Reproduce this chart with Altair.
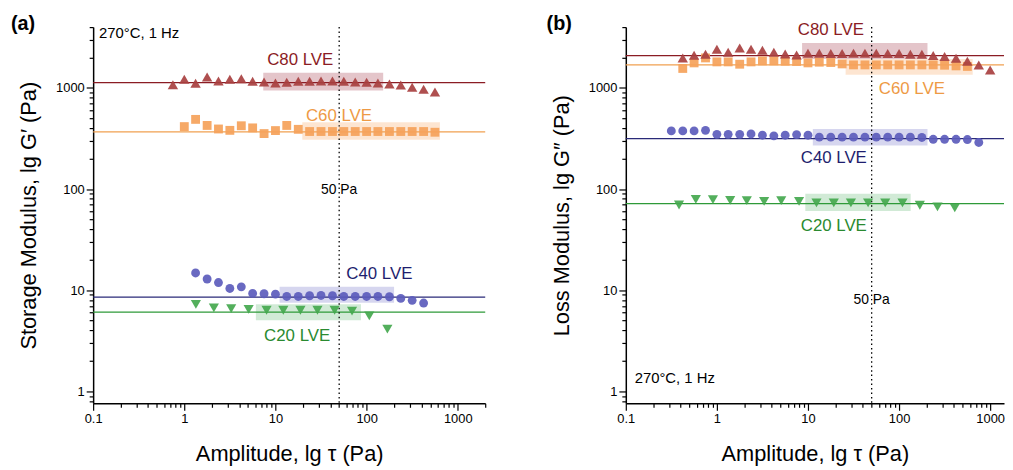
import altair as alt
import pandas as pd

FONT = "Liberation Sans"

series = ["C20", "C40", "C60", "C80"]
shapes = ["triangle-down", "circle", "square", "triangle-up"]
marker_sizes = [105, 80, 80, 110]
marker_colors = ["#44A84E", "#5C5CBC", "#F5A25A", "#A84040"]
line_colors = ["#2E9A38", "#2A2A78", "#F0A050", "#8B1C24"]
box_colors = ["#7CC48A", "#8A8AD0", "#F8B57A", "#B25A68"]
label_colors = ["#2A8A30", "#1E1E6E", "#EE9A45", "#8B1C24"]

# ---------- panel (a): storage modulus G' ----------
a_c80_x = [0.75, 1.0, 1.33, 1.78, 2.37, 3.16, 4.22, 5.62, 7.5, 10, 13.3, 17.8,
           23.7, 31.6, 42.2, 56.2, 75, 100, 133, 178, 237, 316, 422, 562]
a_c80_y = [1077, 1217, 1112, 1282, 1171, 1217, 1233, 1163, 1145, 1119, 1137, 1163,
           1163, 1171, 1171, 1163, 1145, 1137, 1119, 1094, 1070, 1016, 971, 914]
a_c60_x = [1.0, 1.33, 1.78, 2.37, 3.16, 4.22, 5.62, 7.5, 10, 13.3, 17.8, 23.7,
           31.6, 42.2, 56.2, 75, 100, 133, 178, 237, 316, 422, 562]
a_c60_y = [415, 489, 426, 393, 381, 423, 403, 354, 379, 426, 390, 371,
           371, 371, 371, 371, 371, 371, 371, 371, 371, 371, 365]
a_c40_x = [1.33, 1.78, 2.37, 3.16, 4.22, 5.62, 7.5, 10, 13.3, 17.8, 23.7, 31.6,
           42.2, 56.2, 75, 100, 133, 178, 237, 316, 422]
a_c40_y = [14.8, 12.9, 11.9, 10.4, 10.8, 9.29, 9.22, 9.14, 8.67, 8.67, 8.81, 8.87,
           8.81, 8.67, 8.67, 8.67, 8.67, 8.61, 8.29, 7.93, 7.46]
a_c20_x = [1.34, 2.11, 3.27, 5.08, 7.99, 12.2, 18.8, 28.9, 44.6, 69.2, 107, 169]
a_c20_y = [7.24, 6.67, 6.58, 6.47, 6.33, 6.33, 6.33, 6.33, 6.33, 6.22, 5.56, 4.12]
a_lines = [6.08, 8.53, 368, 1127]
a_box_x1 = [6.1, 11.1, 19.7, 7.35]
a_box_x2 = [86.7, 200, 637, 152]
a_box_y1 = [5.05, 7.52, 307, 942]
a_box_y2 = [7.24, 10.8, 457, 1413]
a_lab_x = [17.3, 138, 49.7, 18.7]
a_lab_y = [3.52, 14.6, 531, 1884]

# ---------- panel (b): loss modulus G'' ----------
b_c80_x = [0.422, 0.562, 0.75, 1.0, 1.33, 1.78, 2.37, 3.16, 4.22, 5.62, 7.5, 10,
           13.3, 17.8, 23.7, 31.6, 42.2, 56.2, 75, 100, 133, 178, 237, 316, 422,
           562, 750, 1000]
b_c80_y = [1983, 2109, 2155, 2410, 2253, 2484, 2410, 2360, 2253, 2168, 2119, 2203,
           2203, 2188, 2188, 2203, 2203, 2203, 2188, 2188, 2155, 2155, 2094, 2047,
           1968, 1840, 1692, 1510]
b_c60_x = [0.422, 0.562, 0.75, 1.0, 1.33, 1.78, 2.37, 3.16, 4.22, 5.62, 7.5, 10,
           13.3, 17.8, 23.7, 31.6, 42.2, 56.2, 75, 100, 133, 178, 237, 316, 422, 562]
b_c60_y = [1560, 1771, 1983, 1812, 1812, 1718, 1812, 1853, 1853, 1840, 1828, 1771,
           1799, 1786, 1730, 1692, 1692, 1692, 1692, 1692, 1692, 1692, 1692, 1679,
           1654, 1633]
b_c40_x = [0.316, 0.422, 0.562, 0.75, 1.0, 1.33, 1.78, 2.37, 3.16, 4.22, 5.62, 7.5,
           10, 13.3, 17.8, 23.7, 31.6, 42.2, 56.2, 75, 100, 133, 178, 237, 316, 422,
           562, 750]
b_c40_y = [376, 376, 376, 381, 348, 348, 348, 351, 341, 336, 341, 346,
           341, 326, 326, 326, 326, 326, 326, 326, 326, 326, 324, 311,
           311, 311, 309, 289]
b_c20_x = [0.384, 0.587, 0.905, 1.40, 2.13, 3.30, 5.09, 7.98, 12.4, 19.2, 29.6,
           45.7, 70.5, 109, 169, 264, 409]
b_c20_y = [69.6, 79.2, 78.5, 77.5, 76.8, 75.7, 76.8, 75.7, 72.9, 72.9, 72.9,
           72.9, 72.9, 72.9, 69.2, 66.6, 65.2]
b_lines = [71.8, 316, 1692, 2094]
b_box_x1 = [9.35, 11.3, 25.9, 8.61]
b_box_x2 = [134, 205, 643, 205]
b_box_y1 = [60.8, 270, 1350, 1936]
b_box_y2 = [89.9, 393, 1936, 2780]
b_lab_x = [19.2, 19.2, 138, 17.8]
b_lab_y = [43.4, 201, 978, 3706]

strain_mark = 50
Y_DOMAIN = [0.76, 4000]

MAJOR = "abs(log(datum.value)/LN10 - round(log(datum.value)/LN10)) < 0.001"


def minor_ticks(lo, hi):
    vals = []
    for dec in [0.1, 1, 10, 100, 1000]:
        for m in range(1, 10):
            v = round(m * dec, 6)
            if lo <= v <= hi:
                vals.append(v)
    return vals


def make_axis(title, values, orient):
    return alt.Axis(
        title=title, values=values, grid=False, orient=orient,
        labelExpr=f"{MAJOR} ? format(datum.value, '~g') : ''",
        tickSize={"condition": {"test": MAJOR, "value": 7}, "value": 4},
        labelOverlap=False, labelFlush=False, labelBound=False,
        labelFont=FONT, labelFontSize=13, labelColor="black", labelPadding=2,
        titleFont=FONT, titleFontSize=22, titleFontWeight="normal",
        titleColor="black", titlePadding=19 if orient == "bottom" else 15,
        domainColor="black", domainWidth=1.5, tickColor="black", tickWidth=1.2,
    )


def panel(tag, xmax, width, pts, lines, bx1, bx2, by1, by2, labx, laby,
          ytitle, cond_xy, pa_y, tag_x):
    xs = alt.Scale(type="log", domain=[0.1, xmax], nice=False)
    ys = alt.Scale(type="log", domain=Y_DOMAIN, nice=False)
    xt = minor_ticks(0.1, xmax)
    yt = minor_ticks(Y_DOMAIN[0], Y_DOMAIN[1])
    col_m = alt.Scale(domain=series, range=marker_colors)
    col_l = alt.Scale(domain=series, range=line_colors)
    col_b = alt.Scale(domain=series, range=box_colors)
    col_t = alt.Scale(domain=series, range=label_colors)
    shp = alt.Scale(domain=series, range=shapes)
    siz = alt.Scale(domain=series, range=marker_sizes, type="ordinal")

    rows = []
    for s, (xv, yv) in zip(series, pts):
        for a, b in zip(xv, yv):
            rows.append({"series": s, "x": a, "y": b})
    pdf = pd.DataFrame(rows)
    meta = pd.DataFrame({"series": series, "line": lines, "x1": bx1, "x2": bx2,
                         "y1": by1, "y2": by2, "lx": labx, "ly": laby,
                         "label": [s + " LVE" for s in series]})

    boxes = alt.Chart(meta).mark_rect(fillOpacity=0.35, strokeOpacity=0.35,
                                      strokeWidth=1).encode(
        x=alt.X("x1:Q", scale=xs, axis=make_axis("Amplitude, lg τ (Pa)", xt, "bottom")),
        x2="x2:Q",
        y=alt.Y("y1:Q", scale=ys, axis=make_axis(ytitle, yt, "left")),
        y2="y2:Q",
        color=alt.Color("series:N", scale=col_b, legend=None),
    )
    hlines = alt.Chart(meta).mark_rule(strokeWidth=1.3).encode(
        y=alt.Y("line:Q", scale=ys),
        color=alt.Color("series:N", scale=col_l, legend=None),
    )
    vline = alt.Chart(pd.DataFrame({"x": [strain_mark]})).mark_rule(
        color="black", strokeDash=[1.5, 3], strokeWidth=1.3).encode(
        x=alt.X("x:Q", scale=xs))
    points = alt.Chart(pdf).mark_point(filled=True, opacity=0.92).encode(
        x=alt.X("x:Q", scale=xs),
        y=alt.Y("y:Q", scale=ys),
        color=alt.Color("series:N", scale=col_m, legend=None),
        shape=alt.Shape("series:N", scale=shp, legend=None),
        size=alt.Size("series:N", scale=siz, legend=None),
    )
    labels = alt.Chart(meta).mark_text(font=FONT, fontSize=17).encode(
        x=alt.X("lx:Q", scale=xs),
        y=alt.Y("ly:Q", scale=ys),
        text="label:N",
        color=alt.Color("series:N", scale=col_t, legend=None),
    )
    pa = alt.Chart(pd.DataFrame({"x": [strain_mark], "y": [pa_y], "t": ["50 Pa"]})).mark_text(
        font=FONT, fontSize=14, color="black").encode(
        x=alt.X("x:Q", scale=xs), y=alt.Y("y:Q", scale=ys), text="t:N")
    cond = alt.Chart(pd.DataFrame({"x": [cond_xy[0]], "y": [cond_xy[1]],
                                   "t": ["270°C, 1 Hz"]})).mark_text(
        font=FONT, fontSize=15, color="black", align="left").encode(
        x=alt.X("x:Q", scale=xs), y=alt.Y("y:Q", scale=ys), text="t:N")
    tagc = alt.Chart(pd.DataFrame({"t": [tag]})).mark_text(
        font=FONT, fontSize=20, fontWeight="bold", color="black",
        align="left", baseline="middle").encode(
        x=alt.value(tag_x), y=alt.value(-3), text="t:N")
    return alt.layer(boxes, hlines, vline, points, labels, pa, cond, tagc).resolve_scale(
        color="independent").properties(width=width, height=380)


pa_chart = panel("(a)", 2000, 396,
                 [(a_c20_x, a_c20_y), (a_c40_x, a_c40_y), (a_c60_x, a_c60_y), (a_c80_x, a_c80_y)],
                 a_lines, a_box_x1, a_box_x2, a_box_y1, a_box_y2, a_lab_x, a_lab_y,
                 "Storage Modulus, lg G′ (Pa)", (0.116, 3460), 98, -83)
pb_chart = panel("(b)", 1419, 382,
                 [(b_c20_x, b_c20_y), (b_c40_x, b_c40_y), (b_c60_x, b_c60_y), (b_c80_x, b_c80_y)],
                 b_lines, b_box_x1, b_box_x2, b_box_y1, b_box_y2, b_lab_x, b_lab_y,
                 "Loss Modulus, lg G″ (Pa)", (0.125, 1.34), 8.0, -80)

chart = alt.hconcat(pa_chart, pb_chart, spacing=61).resolve_scale(
    color="independent").properties(
    padding={"left": 3, "top": 4, "right": 0, "bottom": 0},
    background="white",
).configure_view(stroke=None)

chart.save("out.html", embed_options={"renderer": "svg", "actions": False})
